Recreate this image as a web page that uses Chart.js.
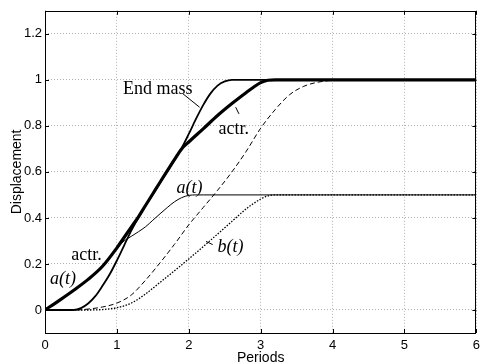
<!DOCTYPE html>
<html>
<head>
<meta charset="utf-8">
<script src="https://cdn.jsdelivr.net/npm/chart.js@4/dist/chart.umd.min.js"></script>
<style>
html,body{margin:0;padding:0;background:#fff;}
canvas{display:block;}
</style>
</head>
<body>
<canvas id="c" width="485" height="364"></canvas>
<script>
// ---- data ----
const xTicks = [0, 1, 2, 3, 4, 5, 6];
const xTickLabels = ["0", "1", "2", "3", "4", "5", "6"];
const yTicks = [0, 0.2, 0.4, 0.6, 0.8, 1, 1.2];
const yTickLabels = ["0", "0.2", "0.4", "0.6", "0.8", "1", "1.2"];

const endMassX = [0,0.4,0.5,0.6,0.7,0.8,0.9,1.0,1.1,1.2,1.3,1.4,1.5,1.6,1.7,1.8,1.9,2.0,2.1,2.2,2.3,2.4,2.5,2.6,2.7,6];
const endMassY = [0,0,0.008,0.028,0.06,0.105,0.155,0.215,0.28,0.345,0.402,0.455,0.503,0.553,0.602,0.652,0.703,0.765,0.83,0.89,0.94,0.975,0.993,1.0,1.0,1.0];

const actrX = [0,0.2,0.4,0.6,0.8,1.0,1.1,1.2,1.3,1.4,1.5,1.6,1.7,1.8,1.9,2.0,2.2,2.4,2.6,2.8,2.9,3.0,3.1,3.2,3.4,6];
const actrY = [0,0.042,0.086,0.133,0.19,0.27,0.315,0.36,0.405,0.455,0.505,0.555,0.604,0.653,0.70,0.73,0.787,0.845,0.897,0.945,0.968,0.988,0.998,1.0,1.0,1.0];

const aX = [0,0.2,0.4,0.6,0.8,1.0,1.1,1.2,1.3,1.4,1.5,1.6,1.7,1.8,1.9,2.0,2.1,2.2,6];
const aY = [0,0.042,0.086,0.133,0.19,0.27,0.30,0.32,0.34,0.362,0.39,0.418,0.445,0.47,0.488,0.498,0.5,0.5,0.5];

const dashX = [0,0.4,0.6,0.8,1.0,1.2,1.4,1.6,1.8,2.0,2.2,2.4,2.6,2.8,3.0,3.2,3.4,3.6,3.8,4.0,4.2,6];
const dashY = [0,0,0.004,0.013,0.03,0.065,0.13,0.205,0.285,0.37,0.445,0.52,0.6,0.69,0.79,0.87,0.935,0.972,0.99,0.998,1.0,1.0];

const bX = [0,0.6,0.8,1.0,1.2,1.4,1.6,1.8,2.0,2.2,2.4,2.6,2.8,3.0,3.1,3.2,6];
const bY = [0,0,0.002,0.01,0.03,0.07,0.12,0.17,0.222,0.275,0.33,0.385,0.44,0.482,0.496,0.5,0.5];

const xTitle = "Periods";
const yTitle = "Displacement";

// annotation texts (placed in data coordinates)
const notes = [
  {text: "End mass", x: 1.084, y: 0.940, italic: false},
  {text: "actr.",    x: 2.414, y: 0.766, italic: false},
  {text: "actr.",    x: 0.366, y: 0.219, italic: false},
  {text: "a(t)",     x: 0.069, y: 0.114, italic: true},
  {text: "a(t)",     x: 1.829, y: 0.510, italic: true},
  {text: "b(t)",     x: 2.400, y: 0.253, italic: true}
];
const pointers = [
  [1.92, 0.939, 2.15, 0.881],
  [2.652, 0.881, 2.698, 0.852],
  [2.24, 0.298, 2.332, 0.284]
];

const pts = (xs, ys) => xs.map((x, i) => ({x: x, y: ys[i]}));

const decor = {
  id: 'decor',
  afterDraw(chart) {
    const {ctx, chartArea: a, scales: {x, y}} = chart;
    ctx.save();
    ctx.setLineDash([]);
    ctx.strokeStyle = '#000';
    ctx.lineWidth = 1;
    // frame
    ctx.strokeRect(Math.round(a.left) + 0.5, Math.round(a.top) + 0.5,
                   Math.round(a.right - a.left) - 1, Math.round(a.bottom - a.top));
    // inward ticks
    ctx.beginPath();
    xTicks.forEach(v => {
      const px = Math.round(x.getPixelForValue(v)) + 0.5;
      ctx.moveTo(px, a.bottom); ctx.lineTo(px, a.bottom - 4);
      ctx.moveTo(px, a.top); ctx.lineTo(px, a.top + 4);
    });
    yTicks.forEach(v => {
      const py = Math.round(y.getPixelForValue(v)) + 0.5;
      ctx.moveTo(a.left, py); ctx.lineTo(a.left + 4, py);
      ctx.moveTo(a.right, py); ctx.lineTo(a.right - 4, py);
    });
    ctx.stroke();
    // pointer lines
    ctx.beginPath();
    pointers.forEach(p => {
      ctx.moveTo(x.getPixelForValue(p[0]), y.getPixelForValue(p[1]));
      ctx.lineTo(x.getPixelForValue(p[2]), y.getPixelForValue(p[3]));
    });
    ctx.stroke();
    // texts
    ctx.fillStyle = '#000';
    ctx.textBaseline = 'alphabetic';
    ctx.textAlign = 'left';
    notes.forEach(n => {
      ctx.font = (n.italic ? 'italic ' : '') + '18px "Liberation Serif", "Times New Roman", serif';
      ctx.fillText(n.text, x.getPixelForValue(n.x), y.getPixelForValue(n.y));
    });
    ctx.restore();
  }
};

const sansFont = {family: '"Liberation Sans", Arial, sans-serif', size: 13};

new Chart(document.getElementById('c'), {
  type: 'line',
  data: {
    datasets: [
      {data: pts(bX, bY), borderColor: '#000', borderWidth: 1.3, borderDash: [1.5, 1.5]},
      {data: pts(dashX, dashY), borderColor: '#000', borderWidth: 1, borderDash: [5, 3]},
      {data: pts(actrX, actrY), borderColor: '#000', borderWidth: 3.2},
      {data: pts(endMassX, endMassY), borderColor: '#000', borderWidth: 1.8},
      {data: pts(aX, aY), borderColor: '#000', borderWidth: 1}
    ]
  },
  options: {
    responsive: false,
    animation: false,
    devicePixelRatio: 1,
    elements: {point: {radius: 0}, line: {cubicInterpolationMode: 'monotone', fill: false}},
    layout: {padding: {top: 9, right: 3, left: 0, bottom: 0}},
    plugins: {legend: {display: false}, tooltip: {enabled: false}},
    scales: {
      x: {
        type: 'linear', min: 0, max: 6,
        afterBuildTicks: s => { s.ticks = xTicks.map(v => ({value: v})); },
        afterFit: s => { s.height = 31; },
        ticks: {color: '#000', font: sansFont, padding: 5, maxRotation: 0,
                callback: (v, i) => xTickLabels[i]},
        grid: {color: 'rgba(0,0,0,0.3)', drawTicks: false, lineWidth: 1},
        border: {display: false, dash: [1, 2]},
        title: {display: true, text: xTitle, color: '#000', font: {family: sansFont.family, size: 14}, padding: {top: 0, bottom: -3}}
      },
      y: {
        type: 'linear', min: -0.1, max: 1.3,
        afterBuildTicks: s => { s.ticks = yTicks.map(v => ({value: v})); },
        afterFit: s => { s.width = 45; },
        ticks: {color: '#000', font: sansFont, padding: 3,
                callback: (v, i) => yTickLabels[i]},
        grid: {color: 'rgba(0,0,0,0.3)', drawTicks: false, lineWidth: 1},
        border: {display: false, dash: [1, 2]},
        title: {display: true, text: yTitle, color: '#000', font: {family: sansFont.family, size: 14}, padding: {top: 9, bottom: 0}}
      }
    }
  },
  plugins: [decor]
});
</script>
</body>
</html>
